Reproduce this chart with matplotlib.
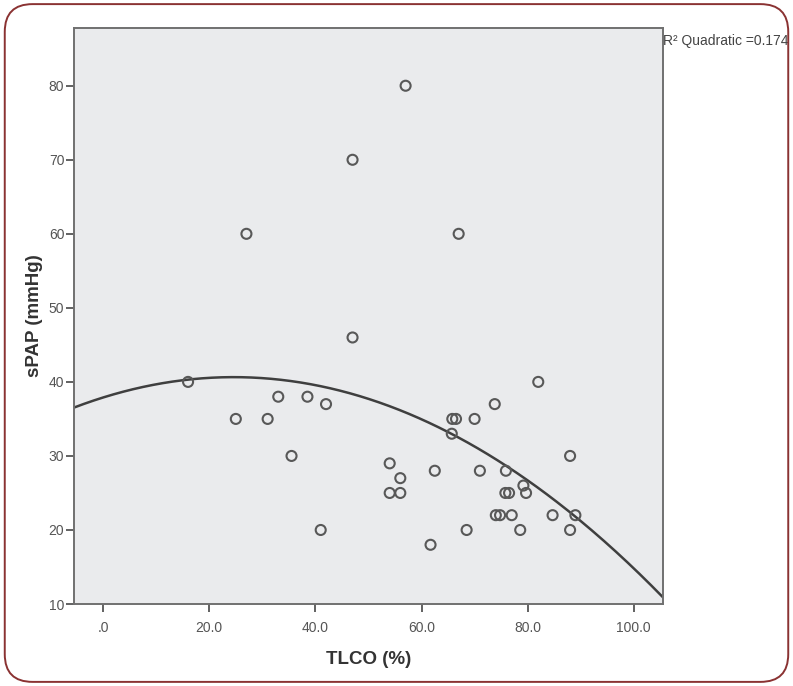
"""Scatter of sPAP against TLCO with a quadratic fit line (SPSS-style)."""
import matplotlib
matplotlib.use("Agg")
import matplotlib.pyplot as plt
import numpy as np
from matplotlib.patches import FancyBboxPatch

plt.rcParams["font.family"] = ["Liberation Sans", "DejaVu Sans"]

# values
tlco = [16, 25, 27, 31, 33, 35.5, 38.5, 41, 42, 47, 47, 54, 54, 56, 56, 57,
        61.7, 62.5, 65.7, 65.8, 66.5, 67, 68.5, 70, 71, 73.8, 74, 74.8, 77,
        75.9, 75.8, 76.5, 79.2, 79.7, 78.6, 82, 84.7, 88, 88, 89]
spap = [40, 35, 60, 35, 38, 30, 38, 20, 37, 70, 46, 29, 25, 27, 25, 80,
        18, 28, 33, 35, 35, 60, 20, 35, 28, 37, 22, 22, 22,
        28, 25, 25, 26, 25, 20, 40, 22, 30, 20, 22]
x_ticks = [0, 20, 40, 60, 80, 100]
x_tick_labels = [".0", "20.0", "40.0", "60.0", "80.0", "100.0"]
y_ticks = [10, 20, 30, 40, 50, 60, 70, 80]
r2_label = "R² Quadratic =0.174"

x = np.array(tlco, dtype=float)
y = np.array(spap, dtype=float)
coef = np.polyfit(x, y, 2)

fig = plt.figure(figsize=(7.93, 6.86), dpi=100)
frame = FancyBboxPatch((0.006, 0.006), 0.988, 0.988,
                       boxstyle="round,pad=0,rounding_size=0.035",
                       transform=fig.transFigure, facecolor="none",
                       edgecolor="#8a3232", linewidth=1.4, mutation_aspect=793 / 686)
fig.patches.append(frame)

ax = fig.add_axes([0.0933, 0.1195, 0.7427, 0.8397])
ax.set_facecolor("#eaebed")
for side in ax.spines.values():
    side.set_color("#707070")
    side.set_linewidth(1.4)

xs = np.linspace(-5.5, 105.5, 300)
ax.plot(xs, np.polyval(coef, xs), color="#3f3f3f", linewidth=1.8, zorder=2)
ax.scatter(x, y, s=52, facecolors="none", edgecolors="#585858", linewidths=1.5, zorder=3)

ax.set_xlim(-5.5, 105.5)
ax.set_ylim(10, 87.8)
ax.set_xticks(x_ticks)
ax.set_xticklabels(x_tick_labels)
ax.set_yticks(y_ticks)
ax.tick_params(axis="both", colors="#555555", labelsize=10, length=6, width=1.3)
ax.tick_params(axis="x", pad=6)
ax.tick_params(axis="y", pad=1)

ax.set_xlabel("TLCO (%)", fontsize=13.5, fontweight="bold", color="#333333", labelpad=12)
ax.set_ylabel("sPAP (mmHg)", fontsize=13.5, fontweight="bold", color="#333333", labelpad=4)

ax.text(1.0, 0.978, r2_label, transform=ax.transAxes, fontsize=10,
        color="#444444", ha="left", va="center")

fig.savefig("out.png", dpi=100)
